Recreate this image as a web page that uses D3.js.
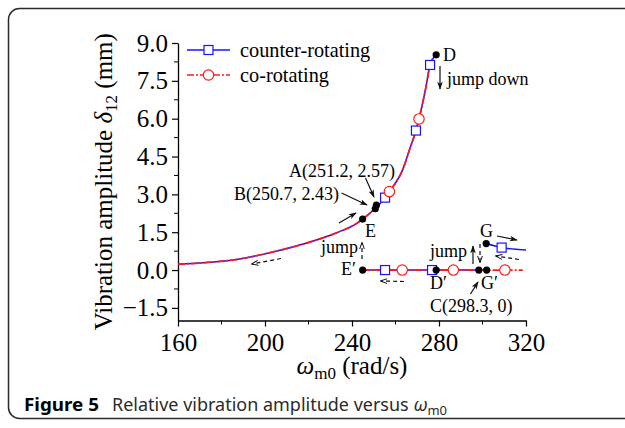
<!DOCTYPE html>
<html>
<head>
<meta charset="utf-8">
<script src="https://cdnjs.cloudflare.com/ajax/libs/d3/7.8.5/d3.min.js"></script>
<style>
  body { margin: 0; background: #fff; }
  svg { display: block; }
</style>
</head>
<body>
<div id="chart"></div>
<script>
// ----------------------
// Data
// ----------------------
// upper branch, shared by both cases
const upperOmega = [160.1, 171.6, 187.0, 202.3, 217.6, 233.0, 242.2, 244.9, 255.2, 257.2, 263.6, 266.4, 269.4, 270.8, 274.0, 275.9, 278.7];
const upperAmp   = [0.23, 0.29, 0.42, 0.69, 1.03, 1.48, 1.85, 2.02, 2.87, 3.11, 4.04, 4.76, 5.53, 5.99, 7.25, 8.13, 8.53];

// lower branch (amplitude zero)
const counterLowOmega = [244.9, 301.9];
const counterLowAmp   = [0, 0];
const coLowOmega = [244.9, 318.5];
const coLowAmp   = [0, 0];

// counter-rotating branch after jump up at C
const gBranchOmega = [301.7, 308.8, 320];
const gBranchAmp   = [1.05, 0.89, 0.79];

// marker positions
const squareOmega = [255.2, 269.4, 275.9, 255.2, 276.8, 308.8];
const squareAmp   = [2.87, 5.53, 8.13, 0, 0, 0.89];
const circleOmega = [257.2, 270.8, 263.1, 286.6, 310.3];
const circleAmp   = [3.11, 5.99, 0, 0, 0];

// black key points
const pointNames = ["E", "B", "A", "D", "E'", "D'", "C", "G'", "G"];
const pointOmega = [244.9, 250.7, 251.2, 278.7, 244.9, 278.7, 298.3, 301.9, 301.7];
const pointAmp   = [2.02, 2.43, 2.57, 8.53, 0, 0, 0, 0, 1.05];

const xTickValues = [160, 200, 240, 280, 320];
const xMinorTicks = [180, 220, 260, 300];
const yTickValues = [-1.5, 0, 1.5, 3.0, 4.5, 6.0, 7.5, 9.0];
const yMinorTicks = [-0.75, 0.75, 2.25, 3.75, 5.25, 6.75, 8.25];

const legendLabels = ["counter-rotating", "co-rotating"];

const zip = (xs, ys) => xs.map((x, i) => [x, ys[i]]);

// ----------------------
// Setup
// ----------------------
const W = 625, H = 428;
const BLUE = "#1414ff", RED = "#ff1a1a";
const DASHDOT = "7,2,2,2";
const SERIF = "'Liberation Serif', 'Times New Roman', serif";

const svg = d3.select("#chart")
    .append("svg")
    .attr("width", W)
    .attr("height", H);

// frame around the figure (right edge runs off the page)
svg.append("rect")
    .attr("x", 8.5).attr("y", 8.5)
    .attr("width", 630).attr("height", 410)
    .attr("rx", 11)
    .attr("fill", "none")
    .attr("stroke", "#2a2a2a")
    .attr("stroke-width", 1.5);

const x = d3.scaleLinear().domain([160, 320]).range([178, 526]);
const y = d3.scaleLinear().domain([-2, 9]).range([320.5, 43]);

// arrowheads
const defs = svg.append("defs");
defs.append("marker")
    .attr("id", "solidHead")
    .attr("viewBox", "0 0 10 10")
    .attr("refX", 9).attr("refY", 5)
    .attr("markerWidth", 8).attr("markerHeight", 8)
    .attr("markerUnits", "userSpaceOnUse")
    .attr("orient", "auto")
    .append("path")
    .attr("d", "M0,1.5 L10,5 L0,8.5 L2.5,5 Z")
    .attr("fill", "#111");
defs.append("marker")
    .attr("id", "openHead")
    .attr("viewBox", "0 0 10 10")
    .attr("refX", 9).attr("refY", 5)
    .attr("markerWidth", 7).attr("markerHeight", 7)
    .attr("markerUnits", "userSpaceOnUse")
    .attr("orient", "auto")
    .append("path")
    .attr("d", "M0,1.5 L10,5 L0,8.5")
    .attr("fill", "none")
    .attr("stroke", "#111")
    .attr("stroke-width", 1.4);

// ----------------------
// Axes
// ----------------------
const xAxis = svg.append("g")
    .attr("transform", `translate(0, ${y(-2)})`)
    .call(d3.axisBottom(x).tickValues(xTickValues).tickSize(6).tickSizeOuter(0).tickPadding(7));
xAxis.selectAll(".minor")
    .data(xMinorTicks).enter()
    .append("line")
    .attr("x1", d => x(d)).attr("x2", d => x(d))
    .attr("y1", 0).attr("y2", 4)
    .attr("stroke", "#000");

const yAxis = svg.append("g")
    .attr("transform", `translate(${x(160)}, 0)`)
    .call(d3.axisLeft(y).tickValues(yTickValues).tickFormat(d3.format(".1f")).tickSize(6).tickSizeOuter(0).tickPadding(4));
yAxis.selectAll(".minor")
    .data(yMinorTicks).enter()
    .append("line")
    .attr("y1", d => y(d)).attr("y2", d => y(d))
    .attr("x1", 0).attr("x2", -4)
    .attr("stroke", "#000");

[xAxis, yAxis].forEach(a => {
    a.select(".domain").attr("stroke", "#000").attr("stroke-width", 1.3);
    a.selectAll(".tick line").attr("stroke-width", 1.2);
    a.selectAll("text")
        .attr("font-family", SERIF)
        .attr("font-size", 25)
        .attr("fill", "#000");
});

// axis titles
const yTitle = svg.append("text")
    .attr("transform", `translate(112, ${(y(-2) + y(9)) / 2}) rotate(-90)`)
    .attr("text-anchor", "middle")
    .attr("font-family", SERIF)
    .attr("font-size", 25);
yTitle.append("tspan").text("Vibration amplitude ");
yTitle.append("tspan").attr("font-style", "italic").text("δ");
yTitle.append("tspan").attr("font-size", 17).attr("dy", 5).text("12");
yTitle.append("tspan").attr("dy", -5).text(" (mm)");

const xTitle = svg.append("text")
    .attr("x", (x(160) + x(320)) / 2)
    .attr("y", 374)
    .attr("text-anchor", "middle")
    .attr("font-family", SERIF)
    .attr("font-size", 25);
xTitle.append("tspan").attr("font-style", "italic").text("ω");
xTitle.append("tspan").attr("font-size", 17).attr("dy", 5).text("m0");
xTitle.append("tspan").attr("dy", -5).text(" (rad/s)");

// ----------------------
// Curves
// ----------------------
const line = d3.line()
    .x(d => x(d[0]))
    .y(d => y(d[1]))
    .curve(d3.curveMonotoneX);

const blueLines = [zip(upperOmega, upperAmp), zip(counterLowOmega, counterLowAmp), zip(gBranchOmega, gBranchAmp)];
const redLines = [zip(upperOmega, upperAmp), zip(coLowOmega, coLowAmp)];

svg.append("g").selectAll("path")
    .data(blueLines).enter()
    .append("path")
    .attr("d", line)
    .attr("fill", "none")
    .attr("stroke", BLUE)
    .attr("stroke-width", 1.5);

svg.append("g").selectAll("path")
    .data(redLines).enter()
    .append("path")
    .attr("d", line)
    .attr("fill", "none")
    .attr("stroke", RED)
    .attr("stroke-width", 1.8)
    .attr("stroke-dasharray", DASHDOT);

// markers
svg.append("g").selectAll("rect")
    .data(zip(squareOmega, squareAmp)).enter()
    .append("rect")
    .attr("x", d => x(d[0]) - 4.5)
    .attr("y", d => y(d[1]) - 4.5)
    .attr("width", 9).attr("height", 9)
    .attr("fill", "#fff")
    .attr("stroke", BLUE)
    .attr("stroke-width", 1.2);

svg.append("g").selectAll("circle")
    .data(zip(circleOmega, circleAmp)).enter()
    .append("circle")
    .attr("cx", d => x(d[0]))
    .attr("cy", d => y(d[1]))
    .attr("r", 5.2)
    .attr("fill", "#fff")
    .attr("stroke", RED)
    .attr("stroke-width", 1.2);

// key points
svg.append("g").selectAll("circle")
    .data(pointNames.map((n, i) => ({ name: n, w: pointOmega[i], a: pointAmp[i] }))).enter()
    .append("circle")
    .attr("cx", d => x(d.w))
    .attr("cy", d => y(d.a))
    .attr("r", 3.6)
    .attr("fill", "#000");

// ----------------------
// Annotations
// ----------------------
const notes = svg.append("g")
    .attr("font-family", SERIF)
    .attr("font-size", 18)
    .attr("fill", "#000");

const label = (t, px, py) => notes.append("text").attr("x", px).attr("y", py).text(t);
label("A(251.2, 2.57)", 289, 177);
label("B(250.7, 2.43)", 234, 200);
label("D", 443, 61);
label("jump down", 447, 85);
label("E", 365, 237);
label("jump", 321, 253);
label("E\u2032", 341, 275);
label("D\u2032", 430, 289);
label("jump", 430, 257);
label("G\u2032", 481, 289);
label("C(298.3, 0)", 430, 312);
label("G", 480, 237);

const arrow = (x1, y1, x2, y2, dashed) => svg.append("line")
    .attr("x1", x1).attr("y1", y1)
    .attr("x2", x2).attr("y2", y2)
    .attr("stroke", "#111")
    .attr("stroke-width", 1.2)
    .attr("stroke-dasharray", dashed ? "4,3" : null)
    .attr("marker-end", dashed ? "url(#openHead)" : "url(#solidHead)");

arrow(365.5, 178, 374, 197);
arrow(341.5, 193, 367, 205);
arrow(339, 223, 356, 213);
arrow(440, 66, 440, 89);
arrow(473, 264, 473, 246);
arrow(470.5, 294, 478, 282);
arrow(497, 236, 517, 240);

arrow(281, 258.5, 252, 264, true);
arrow(404, 281.5, 381, 281, true);
arrow(362, 259, 362, 243, true);
arrow(480, 244, 480, 262, true);
arrow(519, 259.5, 496, 256, true);

// ----------------------
// Legend
// ----------------------
const legend = svg.append("g");
legendLabels.forEach((t, i) => {
    const ly = 50 + i * 25;
    legend.append("line")
        .attr("x1", 187).attr("x2", 230)
        .attr("y1", ly).attr("y2", ly)
        .attr("stroke", i === 0 ? BLUE : RED)
        .attr("stroke-width", 1.6)
        .attr("stroke-dasharray", i === 0 ? null : DASHDOT);
    if (i === 0) {
        legend.append("rect")
            .attr("x", 208.5 - 4.5).attr("y", ly - 4.5)
            .attr("width", 9).attr("height", 9)
            .attr("fill", "#fff").attr("stroke", BLUE).attr("stroke-width", 1.2);
    } else {
        legend.append("circle")
            .attr("cx", 208.5).attr("cy", ly).attr("r", 5.2)
            .attr("fill", "#fff").attr("stroke", RED).attr("stroke-width", 1.2);
    }
    legend.append("text")
        .attr("x", 240).attr("y", ly + 7)
        .attr("font-family", SERIF)
        .attr("font-size", 20.3)
        .text(t);
});

// ----------------------
// Caption
// ----------------------
svg.append("text")
    .attr("x", 24).attr("y", 411)
    .attr("font-family", "'Noto Sans', 'Open Sans', sans-serif")
    .attr("font-weight", "bold")
    .attr("font-size", 18)
    .attr("textLength", 75)
    .attr("lengthAdjust", "spacingAndGlyphs")
    .attr("fill", "#000")
    .text("Figure 5");

const cap = svg.append("text")
    .attr("x", 112).attr("y", 411)
    .attr("font-family", "'Noto Sans', 'Open Sans', sans-serif")
    .attr("font-size", 18)
    .attr("textLength", 335)
    .attr("lengthAdjust", "spacingAndGlyphs")
    .attr("fill", "#2b2b2b");
cap.append("tspan").text("Relative vibration amplitude versus ");
cap.append("tspan").attr("font-style", "italic").text("ω");
cap.append("tspan").attr("font-size", 13).attr("dy", 4).text("m0");
</script>
</body>
</html>
